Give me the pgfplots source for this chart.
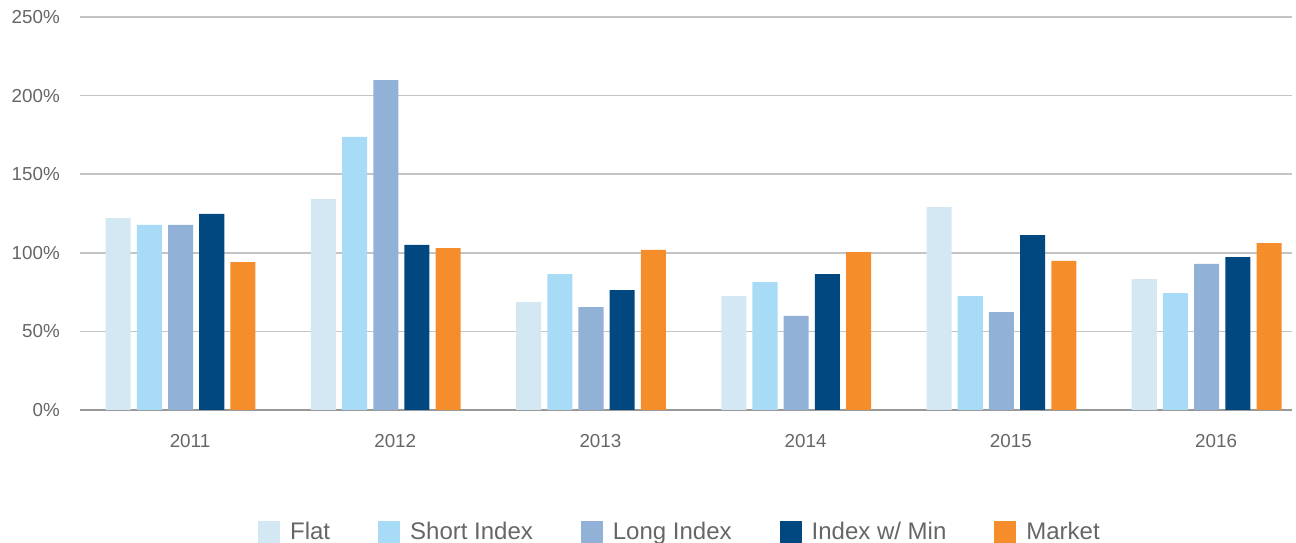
\documentclass[border=0pt]{standalone}
\usepackage{pgfplots}
\pgfplotsset{compat=1.18}
\usepackage{fontspec}
\setmainfont{Liberation Sans}
\definecolor{cFlat}{HTML}{D3E8F3}
\definecolor{cShort}{HTML}{A8DBF6}
\definecolor{cLong}{HTML}{91B1D7}
\definecolor{cIdx}{HTML}{00487F}
\definecolor{cMkt}{HTML}{F68D2B}
\definecolor{tgrey}{HTML}{666666}
\definecolor{ggrid}{HTML}{C4C4C4}
\definecolor{gaxis}{HTML}{999999}
\pgfplotsset{sq legend/.style={legend image code/.code={\fill[##1] (0pt,-11pt) rectangle (22pt,11pt);}}}
\begin{document}
\begin{tikzpicture}
\path[use as bounding box] (0pt,0pt) rectangle (1296pt,543pt);
\begin{axis}[
  at={(80pt,133pt)}, anchor=south west,
  scale only axis, width=1212pt, height=393pt,
  xmin=-0.536, xmax=5.370, ymin=0, ymax=250,
  ybar, bar width=0.122,
  axis line style={draw=none},
  tick style={draw=none},
  xtick={0,1,2,3,4,5},
  xticklabels={2011,2012,2013,2014,2015,2016},
  ytick={50,100,150,200,250},
  yticklabels={50\%,100\%,150\%,200\%,250\%},
  extra y ticks={0},
  extra y tick labels={0\%},
  extra y tick style={major grid style={color=gaxis, line width=1.5pt}},
  ymajorgrids,
  major grid style={color=ggrid, line width=1.5pt},
  /pgf/number format/assume math mode=true,
  yticklabel style={font=\fontsize{18.8}{20}\selectfont, text=tgrey, inner sep=0pt, xshift=-20pt},
  xticklabel style={font=\fontsize{18.8}{20}\selectfont, text=tgrey, inner sep=0pt, anchor=north, yshift=-20pt},
  legend columns=5,
  legend style={at={(0.495,-0.31)}, anchor=center, draw=none, fill=none,
    font=\fontsize{24}{26}\selectfont, text=tgrey,
    /tikz/every even column/.append style={column sep=46pt},
    /tikz/every odd column/.append style={column sep=8pt}},
]
\addplot[fill=cFlat, draw=none, bar shift=-0.350, sq legend] coordinates {(0,122.1) (1,134.2) (2,68.7) (3,72.5) (4,129.1) (5,83.3)};
\addlegendentry{Flat}
\addplot[fill=cShort, draw=none, bar shift=-0.198, sq legend] coordinates {(0,117.7) (1,173.7) (2,86.5) (3,81.4) (4,72.5) (5,74.4)};
\addlegendentry{Short Index}
\addplot[fill=cLong, draw=none, bar shift=-0.046, sq legend] coordinates {(0,117.7) (1,209.9) (2,65.5) (3,59.8) (4,62.3) (5,92.9)};
\addlegendentry{Long Index}
\addplot[fill=cIdx, draw=none, bar shift=0.106, sq legend] coordinates {(0,124.7) (1,105.0) (2,76.3) (3,86.5) (4,111.3) (5,97.3)};
\addlegendentry{Index w/ Min}
\addplot[fill=cMkt, draw=none, bar shift=0.258, sq legend] coordinates {(0,94.1) (1,103.0) (2,101.8) (3,100.5) (4,94.8) (5,106.2)};
\addlegendentry{Market}
\end{axis}
\end{tikzpicture}
\end{document}
